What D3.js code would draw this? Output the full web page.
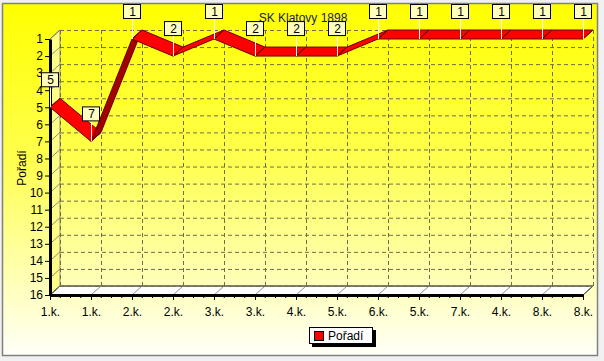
<!DOCTYPE html>
<html lang="cs">
<head>
<meta charset="UTF-8">
<title>SK Klatovy 1898</title>
<script src="https://cdn.jsdelivr.net/npm/d3@7"></script>
<style>
  body { margin: 0; background: #f0f0f0; }
  svg text { font-family: Arial, "Liberation Sans", sans-serif; }
</style>
</head>
<body>
<svg id="svg"></svg>
<script>
// data
const rounds = ["1.k.", "1.k.", "2.k.", "2.k.", "3.k.", "3.k.", "4.k.", "5.k.", "6.k.", "5.k.", "7.k.", "4.k.", "8.k.", "8.k."];
const poradi = [5, 7, 1, 2, 1, 2, 2, 2, 1, 1, 1, 1, 1, 1];
const rankTicks = d3.range(1, 17);
const title = "SK Klatovy 1898";
const seriesName = "Pořadí";

const width = 604, height = 361;
const dx = 10, dy = -9; // 3d depth offset

const svg = d3.select("#svg").attr("width", width).attr("height", height);

const x = d3.scalePoint().domain(d3.range(rounds.length)).range([50, 583]);
const y = d3.scaleLinear().domain([1, 16]).range([39, 295]);

// panel background
const defs = svg.append("defs");
const grad = defs.append("linearGradient").attr("id", "bg")
    .attr("x1", 0).attr("y1", 0).attr("x2", 0).attr("y2", 1);
grad.append("stop").attr("offset", "0%").attr("stop-color", "#ffff00");
grad.append("stop").attr("offset", "45%").attr("stop-color", "#ffff50");
grad.append("stop").attr("offset", "100%").attr("stop-color", "#fffff8");
svg.append("rect").attr("x", 2.5).attr("y", 3.5).attr("width", 595).attr("height", 352)
    .attr("fill", "url(#bg)").attr("stroke", "#808080").attr("stroke-width", 1.5);

const x0 = x(0), x1 = x(rounds.length - 1);
const yTop = y(1), yBot = y(16);

// left wall
svg.append("polygon")
    .attr("points", [[x0, yTop], [x0 + dx, yTop + dy], [x0 + dx, yBot + dy], [x0, yBot]].join(" "))
    .attr("fill", "#ffff88").attr("stroke", "#707070").attr("stroke-width", 0.8);

// floor
svg.append("polygon")
    .attr("points", [[x0, yBot], [x1, yBot], [x1 + dx, yBot + dy], [x0 + dx, yBot + dy]].join(" "))
    .attr("fill", "#ffffff").attr("stroke", "#000").attr("stroke-width", 1);

// back wall grid
const grid = svg.append("g").attr("stroke", "#6e6e4a").attr("stroke-width", 1)
    .attr("stroke-dasharray", "4,3").attr("fill", "none");
rankTicks.forEach(t => {
    grid.append("line").attr("x1", x0 + dx).attr("x2", x1 + dx)
        .attr("y1", y(t) + dy + 0.5).attr("y2", y(t) + dy + 0.5);
});
rounds.forEach((r, i) => {
    grid.append("line").attr("x1", x(i) + dx + 0.5).attr("x2", x(i) + dx + 0.5)
        .attr("y1", yTop + dy).attr("y2", yBot + dy);
});

// wall / floor depth marks
const depth = svg.append("g").attr("stroke", "#707070").attr("stroke-width", 0.8);
rankTicks.forEach(t => {
    depth.append("line").attr("x1", x0).attr("y1", y(t)).attr("x2", x0 + dx).attr("y2", y(t) + dy);
});
rounds.forEach((r, i) => {
    depth.append("line").attr("x1", x(i)).attr("y1", yBot).attr("x2", x(i) + dx).attr("y2", yBot + dy);
});

// axes
const yAxis = svg.append("g").attr("transform", `translate(${x0},0)`)
    .call(d3.axisLeft(y).tickValues(rankTicks).tickSize(5).tickSizeOuter(0).tickPadding(2));
yAxis.select(".domain").attr("stroke-width", 3);
yAxis.selectAll("text").attr("font-size", 12).attr("fill", "#000")
    .style("font-family", "Arial, 'Liberation Sans', sans-serif");

const xAxis = svg.append("g").attr("transform", `translate(0,${yBot})`)
    .call(d3.axisBottom(x).tickFormat(i => rounds[i]).tickSize(5).tickSizeOuter(0).tickPadding(7));
xAxis.select(".domain").attr("stroke-width", 3);
xAxis.selectAll("text").attr("font-size", 12).attr("fill", "#000")
    .style("font-family", "Arial, 'Liberation Sans', sans-serif");

// minor ticks on bottom axis
const step = x.step();
for (let i = 0; i < rounds.length - 1; i++) {
    for (let k = 1; k <= 3; k++) {
        const mx = x(i) + step * k / 4;
        svg.append("line").attr("x1", mx).attr("x2", mx).attr("y1", yBot).attr("y2", yBot + 3)
            .attr("stroke", "#000").attr("stroke-width", 1);
    }
}

// title
svg.append("text").attr("x", 303).attr("y", 22).attr("text-anchor", "middle")
    .attr("font-size", 12).attr("fill", "#1c1c50").text(title);

// y axis title
svg.append("text").attr("transform", "translate(26,168) rotate(-90)")
    .attr("text-anchor", "middle").attr("font-size", 12).attr("fill", "#000").text(seriesName);

// 3d ribbon
const ribbon = svg.append("g");
for (let i = 0; i < poradi.length - 1; i++) {
    const ax = x(i), ay = y(poradi[i]);
    const bx = x(i + 1), by = y(poradi[i + 1]);
    const cross = (bx - ax) * dy - (by - ay) * dx;
    ribbon.append("polygon")
        .attr("points", [[ax, ay], [bx, by], [bx + dx, by + dy], [ax + dx, ay + dy]].join(" "))
        .attr("fill", cross < 0 ? "#ff0000" : "#a00000")
        .attr("stroke", "#700000").attr("stroke-width", 1);
}
poradi.forEach((v, i) => {
    ribbon.append("line").attr("x1", x(i)).attr("y1", y(v)).attr("x2", x(i) + dx).attr("y2", y(v) + dy)
        .attr("stroke", "#700000").attr("stroke-width", 1);
});

// marks
const marks = svg.append("g");
poradi.forEach((v, i) => {
    const px = x(i), py = y(v);
    marks.append("line").attr("x1", px + 0.5).attr("x2", px + 0.5).attr("y1", py).attr("y2", py - 20)
        .attr("stroke", "#ffffff").attr("stroke-width", 1);
    marks.append("rect").attr("x", px - 8.5).attr("y", py - 34.5).attr("width", 17).attr("height", 14)
        .attr("fill", "#ffffc0").attr("stroke", "#000").attr("stroke-width", 1);
    marks.append("text").attr("x", px + 0.5).attr("y", py - 23).attr("text-anchor", "middle")
        .attr("font-size", 12).attr("fill", "#000").text(v);
});

// legend
const lg = svg.append("g").attr("transform", "translate(309,327)");
lg.append("rect").attr("x", 3).attr("y", 3).attr("width", 64).attr("height", 17).attr("fill", "#000");
lg.append("rect").attr("x", 0.5).attr("y", 0.5).attr("width", 63).attr("height", 16)
    .attr("fill", "#fff").attr("stroke", "#000");
lg.append("rect").attr("x", 5.5).attr("y", 4.5).attr("width", 9).attr("height", 9)
    .attr("fill", "#ff0000").attr("stroke", "#000");
lg.append("text").attr("x", 19).attr("y", 13).attr("font-size", 12).attr("fill", "#000").text(seriesName);
</script>
</body>
</html>
